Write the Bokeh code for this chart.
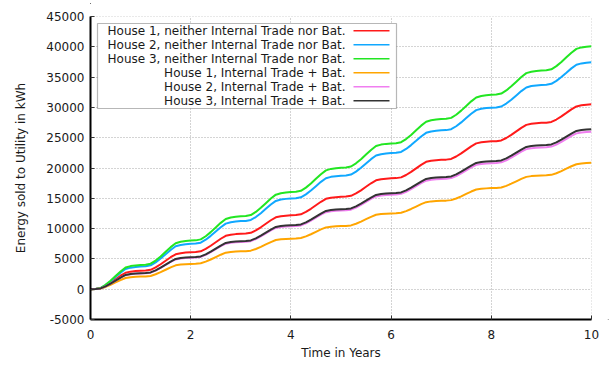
import numpy as np
from bokeh.plotting import figure
from bokeh.models import (Range1d, FixedTicker, Arrow, OpenHead, BoxAnnotation,
                          Label, ColumnDataSource)
from bokeh.embed import file_html
from bokeh.resources import INLINE

# time axis: samples every 0.1 year
years = [round(i * 0.1, 1) for i in range(101)]

house1_no = [0, 31, 153, 549, 1068, 1647, 2227, 2715, 2898, 2989,
             3050, 3081, 3203, 3599, 4118, 4697, 5277, 5765, 5948, 6039,
             6100, 6131, 6253, 6649, 7168, 7747, 8327, 8815, 8998, 9089,
             9150, 9181, 9303, 9699, 10218, 10797, 11377, 11865, 12048, 12139,
             12200, 12231, 12353, 12749, 13268, 13847, 14427, 14915, 15098, 15189,
             15250, 15281, 15403, 15799, 16318, 16897, 17477, 17965, 18148, 18239,
             18300, 18331, 18453, 18849, 19368, 19947, 20527, 21015, 21198, 21289,
             21350, 21381, 21503, 21899, 22418, 22997, 23577, 24065, 24248, 24339,
             24400, 24431, 24553, 24949, 25468, 26047, 26627, 27115, 27298, 27389,
             27450, 27481, 27603, 27999, 28518, 29097, 29677, 30165, 30348, 30439,
             30500]

house2_no = [0, 37, 187, 674, 1311, 2022, 2734, 3333, 3558, 3670,
             3745, 3782, 3932, 4419, 5056, 5767, 6479, 7078, 7303, 7415,
             7490, 7527, 7677, 8164, 8801, 9512, 10224, 10823, 11048, 11160,
             11235, 11272, 11422, 11909, 12546, 13257, 13969, 14568, 14793, 14905,
             14980, 15017, 15167, 15654, 16291, 17002, 17714, 18313, 18538, 18650,
             18725, 18762, 18912, 19399, 20036, 20747, 21459, 22058, 22283, 22395,
             22470, 22507, 22657, 23144, 23781, 24492, 25204, 25803, 26028, 26140,
             26215, 26252, 26402, 26889, 27526, 28237, 28949, 29548, 29773, 29885,
             29960, 29997, 30147, 30634, 31271, 31982, 32694, 33293, 33518, 33630,
             33705, 33742, 33892, 34379, 35016, 35727, 36439, 37038, 37263, 37375,
             37450]

house3_no = [0, 40, 200, 720, 1400, 2170, 2930, 3570, 3810, 3930,
             4010, 4050, 4210, 4730, 5410, 6180, 6940, 7580, 7820, 7940,
             8020, 8060, 8220, 8740, 9420, 10190, 10950, 11590, 11830, 11950,
             12030, 12070, 12230, 12750, 13430, 14200, 14960, 15600, 15840, 15960,
             16040, 16080, 16240, 16760, 17440, 18210, 18970, 19610, 19850, 19970,
             20050, 20090, 20250, 20770, 21450, 22220, 22980, 23620, 23860, 23980,
             24060, 24100, 24260, 24780, 25460, 26230, 26990, 27630, 27870, 27990,
             28070, 28110, 28270, 28790, 29470, 30240, 31000, 31640, 31880, 32000,
             32080, 32120, 32280, 32800, 33480, 34250, 35010, 35650, 35890, 36010,
             36090, 36130, 36290, 36810, 37490, 38260, 39020, 39660, 39900, 40020,
             40100]

house1_tb = [0, 21, 104, 375, 730, 1126, 1522, 1856, 1981, 2043,
             2085, 2106, 2189, 2460, 2815, 3211, 3607, 3941, 4066, 4128,
             4170, 4191, 4274, 4545, 4900, 5296, 5692, 6026, 6151, 6213,
             6255, 6276, 6359, 6630, 6985, 7381, 7777, 8111, 8236, 8298,
             8340, 8361, 8444, 8715, 9070, 9466, 9862, 10196, 10321, 10383,
             10425, 10446, 10529, 10800, 11155, 11551, 11947, 12281, 12406, 12468,
             12510, 12531, 12614, 12885, 13240, 13636, 14032, 14366, 14491, 14553,
             14595, 14616, 14699, 14970, 15325, 15721, 16117, 16451, 16576, 16638,
             16680, 16701, 16784, 17055, 17410, 17806, 18202, 18536, 18661, 18723,
             18765, 18786, 18869, 19140, 19495, 19891, 20287, 20621, 20746, 20808,
             20850]

house2_tb = [0, 26, 130, 468, 910, 1404, 1898, 2314, 2470, 2548,
             2600, 2626, 2730, 3068, 3510, 4004, 4498, 4914, 5070, 5148,
             5200, 5226, 5330, 5668, 6110, 6604, 7098, 7514, 7670, 7748,
             7800, 7826, 7930, 8268, 8710, 9204, 9698, 10114, 10270, 10348,
             10400, 10426, 10530, 10868, 11310, 11804, 12298, 12714, 12870, 12948,
             13000, 13026, 13130, 13468, 13910, 14404, 14898, 15314, 15470, 15548,
             15600, 15626, 15730, 16068, 16510, 17004, 17498, 17914, 18070, 18148,
             18200, 18226, 18330, 18668, 19110, 19604, 20098, 20514, 20670, 20748,
             20800, 20826, 20930, 21268, 21710, 22204, 22698, 23114, 23270, 23348,
             23400, 23426, 23530, 23868, 24310, 24804, 25298, 25714, 25870, 25948,
             26000]

house3_tb = [0, 26, 132, 475, 924, 1426, 1927, 2350, 2508, 2587,
             2640, 2666, 2772, 3115, 3564, 4066, 4567, 4990, 5148, 5227,
             5280, 5306, 5412, 5755, 6204, 6706, 7207, 7630, 7788, 7867,
             7920, 7946, 8052, 8395, 8844, 9346, 9847, 10270, 10428, 10507,
             10560, 10586, 10692, 11035, 11484, 11986, 12487, 12910, 13068, 13147,
             13200, 13226, 13332, 13675, 14124, 14626, 15127, 15550, 15708, 15787,
             15840, 15866, 15972, 16315, 16764, 17266, 17767, 18190, 18348, 18427,
             18480, 18506, 18612, 18955, 19404, 19906, 20407, 20830, 20988, 21067,
             21120, 21146, 21252, 21595, 22044, 22546, 23047, 23470, 23628, 23707,
             23760, 23786, 23892, 24235, 24684, 25186, 25687, 26110, 26268, 26347,
             26400]

series_labels = ["House 1, neither Internal Trade nor Bat.",
                 "House 2, neither Internal Trade nor Bat.",
                 "House 3, neither Internal Trade nor Bat.",
                 "House 1, Internal Trade + Bat.",
                 "House 2, Internal Trade + Bat.",
                 "House 3, Internal Trade + Bat."]
series_colors = ["#ff1a1a", "#10a8ff", "#22e622", "#ffa500", "#f07ef0", "#333333"]
series_values = [house1_no, house2_no, house3_no, house1_tb, house2_tb, house3_tb]

x_ticks = [0, 2, 4, 6, 8, 10]
x_tick_labels = ["0", "2", "4", "6", "8", "10"]
y_ticks = [-5000, 0, 5000, 10000, 15000, 20000, 25000, 30000, 35000, 40000, 45000]
y_tick_labels = ["-5000", "0", "5000", "10000", "15000", "20000", "25000",
                 "30000", "35000", "40000", "45000"]

FONT = "DejaVu Sans"
TXT = "#1a1a1a"

p = figure(width=616, height=370, output_backend="svg", toolbar_location=None,
           x_range=Range1d(x_ticks[0], x_ticks[-1] + 0.001),
           y_range=Range1d(y_ticks[0], y_ticks[-1] + 0.5),
           min_border_left=90, min_border_right=25, min_border_top=16,
           min_border_bottom=51)
p.outline_line_color = None

# axes
p.xaxis.ticker = FixedTicker(ticks=x_ticks)
p.yaxis.ticker = FixedTicker(ticks=y_ticks)
p.xaxis.major_label_overrides = {t: l for t, l in zip(x_ticks, x_tick_labels)}
p.yaxis.major_label_overrides = {t: l for t, l in zip(y_ticks, y_tick_labels)}
for ax in (p.xaxis[0], p.yaxis[0]):
    ax.axis_line_color = "black"
    ax.axis_line_width = 2
    ax.major_tick_in = 4
    ax.major_tick_out = 0
    ax.major_tick_line_color = "#333333"
    ax.major_tick_line_width = 1
    ax.minor_tick_line_color = None
    ax.major_label_text_font = FONT
    ax.major_label_text_font_size = "12px"
    ax.major_label_text_color = TXT
    ax.axis_label_text_font = FONT
    ax.axis_label_text_font_size = "12px"
    ax.axis_label_text_font_style = "normal"
    ax.axis_label_text_color = TXT
p.xaxis.axis_label = "Time in Years"
p.yaxis.axis_label = "Energy sold to Utility in kWh"
p.xaxis.major_label_standoff = 10
p.xaxis.axis_label_standoff = 4
p.yaxis.major_label_standoff = 6
p.yaxis.axis_label_standoff = 15

# grid
p.xgrid.ticker = FixedTicker(ticks=x_ticks)
p.ygrid.ticker = FixedTicker(ticks=y_ticks)
for g in (p.xgrid[0], p.ygrid[0]):
    g.grid_line_color = "#a8a8a8"
    g.grid_line_dash = "1 2"
    g.grid_line_width = 1

# curves
for vals, col in zip(series_values, series_colors):
    src = ColumnDataSource(data=dict(x=years, y=vals))
    p.line("x", "y", source=src, line_color=col, line_width=2)

# axis arrows
p.add_layout(Arrow(end=OpenHead(size=11, line_color="#111111", line_width=1),
                   x_start=x_ticks[0], y_start=y_ticks[-1],
                   x_end=x_ticks[0], y_end=y_ticks[-1] + 2200,
                   line_color="#111111", line_width=1))
p.add_layout(Arrow(end=OpenHead(size=10, line_color="#444444", line_width=1),
                   x_start=x_ticks[-1], y_start=y_ticks[0],
                   x_end=x_ticks[-1] + 0.34, y_end=y_ticks[0],
                   line_color="#444444", line_width=1))

# legend (text right-aligned, sample line on the right)
p.add_layout(BoxAnnotation(left=97, right=396, top=23, bottom=108,
                           left_units="canvas", right_units="canvas",
                           top_units="canvas", bottom_units="canvas",
                           fill_color="white", fill_alpha=1.0,
                           line_color="#111111", line_width=1.2, level="annotation"))
for i, (lab, col) in enumerate(zip(series_labels, series_colors)):
    ry = 30.3 + 14 * i
    p.add_layout(Label(x=345, y=ry, x_units="canvas", y_units="canvas", text=lab,
                       text_align="right", text_baseline="middle",
                       text_font=FONT, text_font_size="12px", text_color=TXT))
    p.add_layout(BoxAnnotation(left=353, right=389, top=ry - 0.75, bottom=ry + 0.75,
                               left_units="canvas", right_units="canvas",
                               top_units="canvas", bottom_units="canvas",
                               fill_color=col, fill_alpha=1.0, line_color=None,
                               level="annotation"))

open("out.html", "w").write(file_html(p, INLINE))
